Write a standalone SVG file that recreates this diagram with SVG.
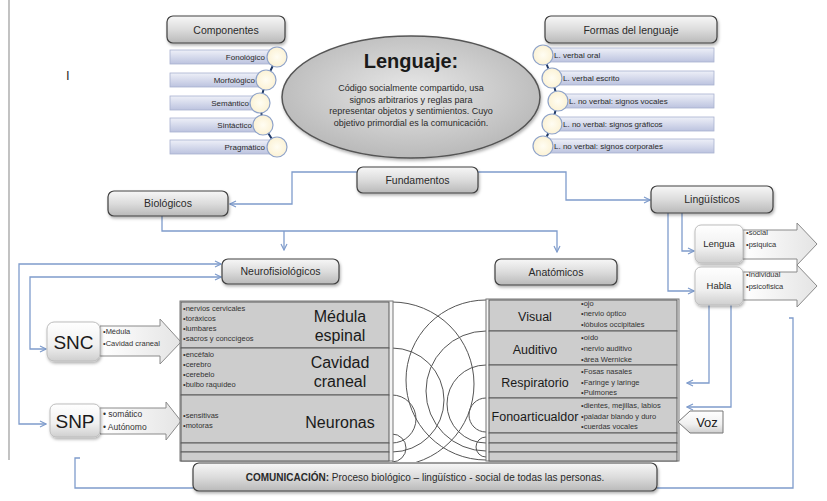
<svg xmlns="http://www.w3.org/2000/svg" width="827" height="501" viewBox="0 0 827 501">
<defs>
<linearGradient id="gBox" x1="0" y1="0" x2="0" y2="1"><stop offset="0" stop-color="#f7f7f7"/><stop offset="0.5" stop-color="#dcdcdc"/><stop offset="1" stop-color="#b9b9b9"/></linearGradient>
<linearGradient id="gLav" x1="0" y1="0" x2="0" y2="1"><stop offset="0" stop-color="#eef0f8"/><stop offset="1" stop-color="#bcc3df"/></linearGradient>
<radialGradient id="gCirc" cx="0.5" cy="0.5" r="0.6"><stop offset="0" stop-color="#fffdf3"/><stop offset="1" stop-color="#fbf0cf"/></radialGradient>
<linearGradient id="gWhite" x1="0" y1="0" x2="0" y2="1"><stop offset="0" stop-color="#ffffff"/><stop offset="0.6" stop-color="#f0f0f0"/><stop offset="1" stop-color="#cfcfcf"/></linearGradient>
<linearGradient id="gArrow" x1="0" y1="0" x2="1" y2="0"><stop offset="0" stop-color="#ffffff"/><stop offset="1" stop-color="#e4e4e4"/></linearGradient>
<radialGradient id="gEll" cx="0.5" cy="0.45" r="0.6"><stop offset="0" stop-color="#e8e8e8"/><stop offset="1" stop-color="#b5b5b5"/></radialGradient>
<filter id="sh" x="-10%" y="-20%" width="125%" height="160%"><feDropShadow dx="1" dy="2" stdDeviation="1.5" flood-color="#000" flood-opacity="0.3"/></filter>
<marker id="ar" viewBox="0 0 8 8" refX="7" refY="4" markerWidth="8" markerHeight="8" markerUnits="userSpaceOnUse" orient="auto-start-reverse"><path d="M1,1 L7,4 L1,7" fill="none" stroke="#7f9ccc" stroke-width="1.2"/></marker>
<clipPath id="gap"><rect x="392" y="298" width="94" height="164"/></clipPath>
</defs>
<style>
text{font-family:"Liberation Sans",Arial,sans-serif;fill:#2a2a2a}
.box{fill:url(#gBox);stroke:#404040;stroke-width:1.2;filter:url(#sh)}
.bt{font-size:10.5px;text-anchor:middle}
.lav{fill:url(#gLav);stroke:#a9b1cf;stroke-width:0.8}
.circ{fill:url(#gCirc);stroke:#8fa3c9;stroke-width:1.2}
.it{font-size:8px}
.con{fill:none;stroke:#7f9ccc;stroke-width:1.3}
.cell{fill:#cdcdcd;stroke:#5a5a5a;stroke-width:1}
.big{font-size:16px;text-anchor:middle;fill:#1a1a1a}
.lab{font-size:12.5px;text-anchor:middle;fill:#1a1a1a}
.sm{font-size:7.5px;fill:#333}
.wb{fill:url(#gWhite);stroke:#bdbdbd;stroke-width:1;filter:url(#sh)}
.arw{fill:url(#gArrow);stroke:#8a8a8a;stroke-width:1}
.arc{fill:none;stroke:#555;stroke-width:1}
</style>
<rect x="0" y="0" width="827" height="501" fill="#ffffff"/>
<line x1="9" y1="0" x2="9" y2="460" stroke="#9a9a9a" stroke-width="1.2"/>
<text x="66" y="80" style="font-size:13px">I</text>

<g id="connectors">
<path class="con" d="M358,172 H292 V204 H230" marker-end="url(#ar)"/>
<path class="con" d="M478,172 H566 V200 H650" marker-end="url(#ar)"/>
<path class="con" d="M162,216 V231 H557 V252" marker-end="url(#ar)"/>
<path class="con" d="M284,231 V250" marker-end="url(#ar)"/>
<path class="con" d="M46,424 H19 V264 H221" marker-start="url(#ar)" marker-end="url(#ar)"/>
<path class="con" d="M46,349 H30 V277 H221" marker-start="url(#ar)" marker-end="url(#ar)"/>
<path class="con" d="M682,213 V251 H694" marker-end="url(#ar)"/>
<path class="con" d="M668,213 V291 H694" marker-end="url(#ar)"/>
<path class="con" d="M709,305 V383 H687" marker-end="url(#ar)"/>
<path class="con" d="M731,287 V407 H687" marker-end="url(#ar)"/>
<path class="con" d="M789,318 H793 V488 H657"/>
<path class="con" d="M80,458 H75 V488 H193"/>
<path d="M277,57 L266,80 L260,103 L263,125 L277,147" fill="none" stroke="#1f3864" stroke-width="2"/>
<path d="M543,55 L552,78 L558,101 L552,124 L543,146" fill="none" stroke="#1f3864" stroke-width="2"/>
</g>

<g id="componentes">
<rect class="box" x="167" y="16" width="118" height="27" rx="6"/>
<text class="bt" x="226" y="33.5">Componentes</text>
</g>
<g id="fonologico"><rect class="lav" x="170" y="50" width="100" height="14"/><circle class="circ" cx="277" cy="57" r="10"/><text class="it" x="265" y="60" text-anchor="end">Fonológico</text></g>
<g id="morfologico"><rect class="lav" x="170" y="73" width="90" height="14"/><circle class="circ" cx="266" cy="80" r="10"/><text class="it" x="255" y="83" text-anchor="end">Morfológico</text></g>
<g id="semantico"><rect class="lav" x="170" y="96" width="84" height="14"/><circle class="circ" cx="260" cy="103" r="10"/><text class="it" x="249" y="106" text-anchor="end">Semántico</text></g>
<g id="sintactico"><rect class="lav" x="170" y="118" width="87" height="14"/><circle class="circ" cx="263" cy="125" r="10"/><text class="it" x="252" y="128" text-anchor="end">Sintáctico</text></g>
<g id="pragmatico"><rect class="lav" x="170" y="140" width="100" height="14"/><circle class="circ" cx="277" cy="147" r="10"/><text class="it" x="265" y="150" text-anchor="end">Pragmático</text></g>

<g id="lenguaje">
<ellipse cx="411" cy="97" rx="129" ry="61" fill="url(#gEll)" stroke="#555" stroke-width="1.5" filter="url(#sh)"/>
<text x="411" y="68" style="font-size:20px;font-weight:bold;text-anchor:middle;fill:#1a1a1a">Lenguaje:</text>
<text x="411" y="91" style="font-size:9px;text-anchor:middle">Código socialmente compartido, usa</text>
<text x="411" y="103" style="font-size:9px;text-anchor:middle">signos arbitrarios y reglas para</text>
<text x="411" y="114" style="font-size:9px;text-anchor:middle">representar objetos y sentimientos. Cuyo</text>
<text x="411" y="126" style="font-size:9px;text-anchor:middle">objetivo primordial es la comunicación.</text>
</g>

<g id="formas">
<rect class="box" x="545" y="16" width="172" height="27" rx="6"/>
<text class="bt" x="631" y="33.5">Formas del lenguaje</text>
</g>
<g id="f1"><rect class="lav" x="543" y="48" width="171" height="14"/><circle class="circ" cx="543" cy="55" r="10"/><text class="it" x="554" y="58">L. verbal oral</text></g>
<g id="f2"><rect class="lav" x="552" y="71" width="162" height="14"/><circle class="circ" cx="552" cy="78" r="10"/><text class="it" x="563" y="81">L. verbal escrito</text></g>
<g id="f3"><rect class="lav" x="558" y="94" width="156" height="14"/><circle class="circ" cx="558" cy="101" r="10"/><text class="it" x="569" y="104">L. no verbal:  signos vocales</text></g>
<g id="f4"><rect class="lav" x="552" y="117" width="162" height="14"/><circle class="circ" cx="552" cy="124" r="10"/><text class="it" x="563" y="127">L. no verbal:  signos gráficos</text></g>
<g id="f5"><rect class="lav" x="543" y="139" width="171" height="14"/><circle class="circ" cx="543" cy="146" r="10"/><text class="it" x="554" y="149">L. no verbal: signos corporales</text></g>

<g id="fundamentos"><rect class="box" x="357" y="167" width="121" height="26" rx="6"/><text class="bt" x="417.5" y="183.5">Fundamentos</text></g>
<g id="biologicos"><rect class="box" x="108" y="191" width="120" height="25" rx="6"/><text class="bt" x="168" y="207">Biológicos</text></g>
<g id="linguisticos"><rect class="box" x="651" y="186" width="122" height="27" rx="6"/><text class="bt" x="712" y="203">Lingüísticos</text></g>
<g id="neurofisiologicos"><rect class="box" x="222" y="259" width="117" height="25" rx="6"/><text class="bt" x="280.5" y="275">Neurofisiológicos</text></g>
<g id="anatomicos"><rect class="box" x="495" y="259" width="122" height="26" rx="6"/><text class="bt" x="556" y="275.5">Anatómicos</text></g>

<g id="lengua">
<path class="arw" d="M743,230 H797 V223 L817,244 L797,265 V259 H743 Z"/>
<rect class="wb" x="695" y="225" width="48" height="38" rx="6"/>
<text x="719" y="247" style="font-size:9.5px;text-anchor:middle">Lengua</text>
<text class="sm" x="746" y="235">•social</text>
<text class="sm" x="746" y="247">•psiquica</text>
</g>
<g id="habla">
<path class="arw" d="M743,272 H797 V265 L817,286 L797,307 V300 H743 Z"/>
<rect class="wb" x="695" y="267" width="48" height="38" rx="6"/>
<text x="719" y="289" style="font-size:9.5px;text-anchor:middle">Habla</text>
<text class="sm" x="746" y="277">•Individual</text>
<text class="sm" x="746" y="289">•psicofisica</text>
</g>

<g id="snc">
<path class="arw" d="M100,326 H160 V319 L181,342 L160,364 V356 H100 Z"/>
<rect class="wb" x="47" y="322" width="53" height="39" rx="7"/>
<text x="73.5" y="349" style="font-size:19px;text-anchor:middle;fill:#1a1a1a">SNC</text>
<text class="sm" x="103" y="334">•Médula</text>
<text class="sm" x="103" y="346">•Cavidad craneal</text>
</g>
<g id="snp">
<path class="arw" d="M100,408 H166 V402 L181,421 L166,440 V434 H100 Z"/>
<rect class="wb" x="50" y="404" width="50" height="33" rx="6"/>
<text x="75" y="428" style="font-size:19px;text-anchor:middle;fill:#1a1a1a">SNP</text>
<text x="103" y="417" style="font-size:8.5px;fill:#333">• somático</text>
<text x="103" y="430" style="font-size:8.5px;fill:#333">• Autónomo</text>
</g>

<g id="arcs" clip-path="url(#gap)">
<circle class="arc" cx="392" cy="384" r="82"/>
<circle class="arc" cx="392" cy="400" r="52"/>
<circle class="arc" cx="392" cy="419" r="24"/>
<circle class="arc" cx="486" cy="380" r="80"/>
<circle class="arc" cx="486" cy="391" r="60"/>
<circle class="arc" cx="486" cy="404" r="39"/>
<circle class="arc" cx="486" cy="415" r="17"/>
<circle class="arc" cx="392" cy="448" r="14"/>
<circle class="arc" cx="486" cy="447" r="10"/>
</g>

<g id="tabla-neuro">
<rect x="180" y="301" width="213" height="160" fill="#f4f4f4" stroke="#777" stroke-width="1"/>
<rect class="cell" x="181" y="302" width="208" height="46"/>
<rect class="cell" x="181" y="348" width="208" height="47"/>
<rect class="cell" x="181" y="395" width="208" height="48"/>
<rect class="cell" x="181" y="443" width="208" height="9"/>
<rect class="cell" x="181" y="452" width="208" height="9"/>
<text class="sm" x="183" y="311">•nervios  cervicales</text>
<text class="sm" x="183" y="321">•toráxicos</text>
<text class="sm" x="183" y="331">•lumbares</text>
<text class="sm" x="183" y="341">•sacros y conccígeos</text>
<text class="big" x="340" y="322">Médula</text>
<text class="big" x="340" y="341">espinal</text>
<text class="sm" x="183" y="357">•encéfalo</text>
<text class="sm" x="183" y="367">•cerebro</text>
<text class="sm" x="183" y="377">•cerebelo</text>
<text class="sm" x="183" y="387">•bulbo raquídeo</text>
<text class="big" x="340" y="368">Cavidad</text>
<text class="big" x="340" y="387">craneal</text>
<text class="sm" x="183" y="418">•sensitivas</text>
<text class="sm" x="183" y="428">•motoras</text>
<text class="big" x="340" y="428">Neuronas</text>
</g>

<g id="tabla-anat">
<rect x="486" y="299" width="193" height="162" fill="#f4f4f4" stroke="#777" stroke-width="1"/>
<rect class="cell" x="489" y="300" width="188" height="31"/>
<rect class="cell" x="489" y="331" width="188" height="34"/>
<rect class="cell" x="489" y="365" width="188" height="33"/>
<rect class="cell" x="489" y="398" width="188" height="35"/>
<rect class="cell" x="489" y="433" width="188" height="10"/>
<rect class="cell" x="489" y="443" width="188" height="9"/>
<rect class="cell" x="489" y="452" width="188" height="9"/>
<text class="lab" x="535" y="321">Visual</text>
<text class="sm" x="581" y="306">•ojo</text>
<text class="sm" x="581" y="316">•nervio óptico</text>
<text class="sm" x="581" y="327">•lóbulos occipitales</text>
<text class="lab" x="535" y="354">Auditivo</text>
<text class="sm" x="581" y="340">•oído</text>
<text class="sm" x="581" y="351">•nervio auditivo</text>
<text class="sm" x="581" y="362">•área Wernicke</text>
<text class="lab" x="535" y="387">Respiratorio</text>
<text class="sm" x="581" y="374">•Fosas nasales</text>
<text class="sm" x="581" y="385">•Faringe  y laringe</text>
<text class="sm" x="581" y="395">•Pulmones</text>
<text class="lab" x="535" y="421">Fonoarticualdor</text>
<text class="sm" x="581" y="408">•dientes, mejillas,  labios</text>
<text class="sm" x="581" y="419">•paladar blando y duro</text>
<text class="sm" x="581" y="429">•cuerdas vocales</text>
</g>

<g id="voz">
<path d="M678,422 L690,411 H723 V433 H690 Z" fill="url(#gWhite)" stroke="#777" stroke-width="1"/>
<text x="707" y="427" style="font-size:13px;text-anchor:middle;fill:#1a1a1a">Voz</text>
</g>

<g id="comunicacion">
<rect class="box" x="193" y="463" width="464" height="28" rx="6"/>
<text x="425" y="481" style="font-size:10px;text-anchor:middle"><tspan font-weight="bold">COMUNICACIÓN:</tspan> Proceso biológico – lingüístico -  social  de todas las personas.</text>
</g>
</svg>
